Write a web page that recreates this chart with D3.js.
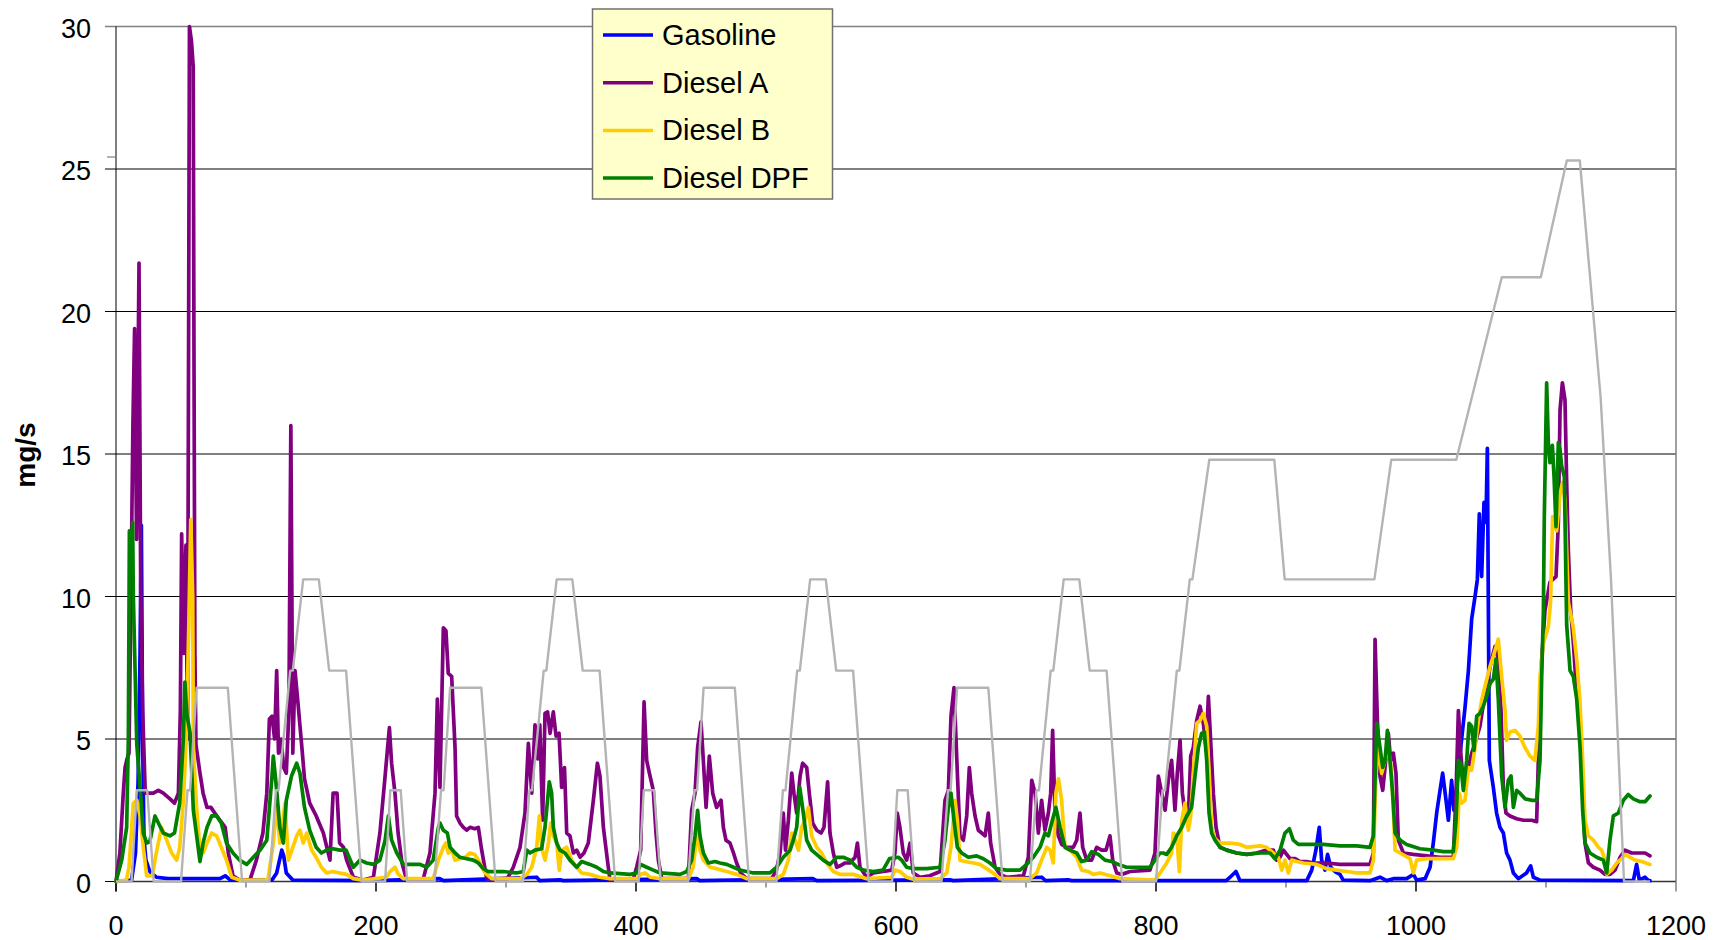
<!DOCTYPE html>
<html><head><meta charset="utf-8">
<script src="https://cdn.jsdelivr.net/npm/d3@7"></script>
<style>html,body{margin:0;padding:0;background:#fff;}svg{display:block;font-family:"Liberation Sans",Arial,sans-serif;}</style>
</head><body><svg id="c" width="1713" height="940"></svg>
<script>
// ---- data (time in s, emission in mg/s) ----
const seriesNames = ["Gasoline","Diesel A","Diesel B","Diesel DPF"];
const seriesColors = ["#0000FF","#800080","#FFCC00","#008000"];
const xTicks = [0,200,400,600,800,1000,1200];
const xMinorTicks = [100,300,500,700,900,1100];
const yTicks = [0,5,10,15,20,25,30];

const speedTime = [0,12,16,24,29,50,55,57,62,86,97,118,123,125,134,136,144,156,164,177,189,
 207,211,219,224,245,250,252,257,281,292,313,318,320,329,331,339,351,359,372,384,
 402,406,414,419,440,445,447,452,476,487,508,513,515,524,526,534,546,554,567,579,
 597,601,609,614,635,640,642,647,671,682,703,708,710,719,721,729,741,749,762,774,
 800,805,807,816,818,826,828,841,891,899,968,981,1031,1066,1096,1116,1126,1142,1150,1160,1180];
const speedValue = [0,0,3.2,3.2,0,0,3.2,3.2,6.8,6.8,0,0,3.2,3.2,7.4,7.4,10.6,10.6,7.4,7.4,0,
 0,3.2,3.2,0,0,3.2,3.2,6.8,6.8,0,0,3.2,3.2,7.4,7.4,10.6,10.6,7.4,7.4,0,
 0,3.2,3.2,0,0,3.2,3.2,6.8,6.8,0,0,3.2,3.2,7.4,7.4,10.6,10.6,7.4,7.4,0,
 0,3.2,3.2,0,0,3.2,3.2,6.8,6.8,0,0,3.2,3.2,7.4,7.4,10.6,10.6,7.4,7.4,0,
 0,3.2,3.2,7.4,7.4,10.6,10.6,14.8,14.8,10.6,10.6,14.8,14.8,21.2,21.2,25.3,25.3,17.0,10.6,0,0];

const gasoline = [[0,0],[12,0.05],[15,1.0],[17,3.5],[18.5,8],[19.5,12.5],[20.5,5],[21.5,1.5],[23,0.75],[26,0.35],[31,0.15],[40,0.1],[80,0.1],[84,0.2],[88,0.05],[120,0.05],[123.6,0.3],[127.5,1.1],[129,0.9],[131,0.3],[136,0.05],[200,0.03],[249,0.1],[252,0.03],[323.6,0.15],[326,0.03],[341.5,0.06],[344,0.03],[446.7,0.1],[449,0.03],[536,0.1],[539,0.03],[641.5,0.06],[644,0.03],[712,0.15],[715,0.03],[732.6,0.06],[735,0.03],[854,0.03],[857,0.15],[861.5,0.35],[864.6,0.03],[916,0.03],[919.8,0.4],[923,1.1],[925.6,1.9],[927.4,0.75],[930,0.4],[932,0.95],[934.4,0.5],[937.7,0.35],[941.5,0.25],[944,0.05],[964.6,0.03],[972.3,0.15],[977.4,0.03],[982.6,0.1],[992.8,0.1],[998,0.25],[1000.5,0.05],[1007,0.1],[1010.8,0.5],[1013.3,1.35],[1015.9,2.4],[1018.5,3.2],[1020.5,3.8],[1023.1,2.85],[1024.9,2.15],[1027.4,3.55],[1029.2,2.5],[1031.3,3.3],[1035.1,5.0],[1037.7,6.1],[1040.3,7.4],[1042.8,9.2],[1045.4,10.0],[1047.2,10.6],[1048.7,12.9],[1050.5,10.7],[1052.3,13.3],[1053.8,12.6],[1054.9,15.2],[1056.4,4.25],[1059.5,3.3],[1062,2.4],[1064.6,1.9],[1067.2,1.7],[1069.7,1.0],[1072.3,0.75],[1074.9,0.3],[1078.7,0.1],[1085,0.3],[1088.2,0.55],[1090.3,0.15],[1095.4,0.05],[1167.2,0.03],[1169.7,0.6],[1171.8,0.05],[1176.2,0.15],[1178.7,0.03],[1180,0.03]];

const dieselA = [[0,0],[3,1.0],[5.6,3.1],[7,4.0],[8.5,4.3],[10,4.5],[11.5,10],[13,16],[14.3,19.4],[15.8,12],[17.7,21.7],[19,10.3],[20.5,6],[22.5,3.1],[28.7,3.1],[32.6,3.2],[36.4,3.1],[41.5,2.9],[45,2.75],[48,3.1],[49.5,6],[50.5,12.2],[52,8],[53.8,11.8],[55,5],[56.5,30],[58,29.5],[59.4,28.6],[60,18.3],[60.7,8],[61.5,4.8],[64.6,3.8],[67,3.1],[70,2.6],[73,2.6],[76,2.4],[80,2.15],[84,1.9],[86.4,1.0],[90,0.2],[95,0.05],[103,0.05],[108,0.75],[113,1.7],[116,3.1],[118,5.7],[120,5.8],[122,5.0],[123.6,7.4],[125,4.5],[127,5.0],[129,4.0],[131,3.8],[133,6],[134.5,16.0],[136,4.5],[137.7,7.4],[140,6.25],[143,4.7],[145,3.6],[149,2.75],[154,2.3],[159.5,1.7],[164.6,0.75],[167,3.1],[170,3.1],[172,1.35],[175,1.2],[177.4,0.75],[182.6,0.15],[190,0.05],[198,0.15],[203,1.7],[207,3.7],[210.3,5.4],[212,4.15],[214.6,3.1],[217,1.7],[220,0.65],[223.6,0.05],[236.4,0.1],[241.5,1.0],[245.4,3.1],[247.2,6.4],[249.2,3.3],[251.8,8.9],[253.8,8.8],[255.6,7.3],[258.2,7.2],[260.8,4.7],[262,2.3],[264.6,2.05],[267.2,1.9],[269.8,1.8],[272.3,1.9],[276,1.85],[278.7,1.9],[281.3,1.1],[285,0.15],[290.3,0.05],[300.5,0.05],[305.6,0.5],[310.8,1.2],[314.6,2.4],[317.2,4.85],[319.8,3.1],[322.3,5.5],[324.4,4.3],[326,5.5],[328.2,2.15],[330,5.9],[332,5.95],[333.9,5.2],[336.4,5.95],[338.5,5.1],[340.8,5.2],[342.8,3.3],[345,4.0],[346.7,1.7],[349.2,1.6],[351.8,1.0],[354.4,1.1],[357,0.85],[360,1.0],[363.3,1.35],[367.2,2.85],[370.3,4.15],[372.3,3.7],[374.9,1.9],[378,0.75],[380,0.05],[398,0.1],[400.5,0.5],[403.6,1.1],[406.2,6.3],[408.2,4.25],[410.3,3.8],[413.3,3.2],[415.4,1.7],[417.2,0.75],[419.8,0.1],[440.3,0.1],[442.8,2.5],[445.4,3.1],[447.4,4.7],[450,5.6],[451.8,4.25],[453.9,2.6],[456.4,4.4],[459,3.1],[462,2.6],[465.4,2.85],[467.2,1.9],[469.2,1.45],[472.3,1.35],[475,1.0],[477.4,0.65],[480.5,0.3],[485,0.1],[504.4,0.1],[508,0.4],[510.8,1.0],[513.3,2.4],[515,1.1],[517.2,2.15],[519.8,3.8],[521.5,3.1],[523.6,2.4],[526.2,3.7],[528.2,4.15],[531.3,4.0],[533.3,3.1],[535.9,2.05],[539,1.8],[542.3,1.7],[544.6,1.9],[547.4,3.5],[549.2,1.7],[551.8,1.0],[554.4,0.5],[557,0.55],[560.8,0.65],[564.6,0.65],[568.5,0.85],[570.3,1.35],[572.3,0.5],[577.4,0.15],[582.6,0.3],[590.3,0.35],[596.7,0.4],[599.2,1.0],[601,2.4],[603,1.9],[605.6,1.0],[608.2,0.75],[610.8,1.35],[613.3,0.3],[618.5,0.15],[626,0.2],[633.9,0.35],[637.7,2.85],[640.3,3.2],[642.3,5.8],[644.6,6.8],[647.2,3.8],[649.2,1.6],[651.8,1.45],[654.4,2.3],[656.4,4.0],[658.2,3.1],[660.8,2.3],[663.3,1.8],[666,1.7],[668.5,1.6],[671,2.4],[672.8,1.35],[676.2,0.5],[680,0.25],[685,0.15],[698,0.2],[701.8,0.85],[704.4,3.55],[707,3.1],[709.5,1.7],[712,2.85],[714.6,1.8],[717.2,2.4],[719,3.1],[720.5,5.3],[722.3,2.4],[724.9,1.6],[727.4,1.3],[731.3,1.2],[736.4,1.2],[739,1.45],[741.5,2.4],[743.6,1.2],[746.7,0.75],[750.5,0.75],[754.4,1.2],[758.2,1.1],[761.5,1.1],[764.6,1.6],[766.7,0.75],[769.8,0.3],[773.6,0.25],[780,0.35],[795.4,0.4],[799.2,1.0],[801.8,3.7],[804.4,3.1],[807,2.5],[809.5,3.55],[812,4.25],[814.6,2.5],[816.4,3.8],[818.5,4.95],[820.3,3.1],[822.3,2.4],[824.9,2.3],[826.7,4.4],[828.7,4.7],[831.3,5.65],[833.9,6.15],[836.4,5.55],[838.5,4.7],[840.3,6.5],[842.3,4.7],[844.1,3.1],[846.2,1.9],[849.2,1.2],[854.4,1.1],[862,1.0],[869.8,0.95],[877.4,1.0],[885.1,1.1],[890.3,1.1],[892.8,0.75],[895.4,0.85],[898,1.1],[900.5,0.95],[903.1,0.8],[907,0.8],[910.8,0.7],[916,0.7],[921,0.65],[931.3,0.65],[941.5,0.6],[954.4,0.6],[964.6,0.6],[967.2,1.0],[968.5,8.5],[970.3,5.65],[972.3,3.7],[974.4,3.2],[976.2,4.0],[978.7,5.2],[980.5,4.25],[982.6,4.5],[984.6,3.8],[986.4,1.45],[990.3,1.0],[998,0.95],[1008.2,0.9],[1018.5,0.85],[1028.7,0.85],[1030.8,3.1],[1032.6,6.0],[1034.4,4.5],[1037,3.2],[1040.3,4.0],[1042.8,4.5],[1045.4,4.85],[1049.2,5.45],[1053.1,6.6],[1055.6,7.2],[1058.2,7.8],[1060.8,8.25],[1063.3,7.8],[1065.4,6.0],[1067.2,3.3],[1069.2,2.4],[1072.3,2.3],[1077.4,2.2],[1082.6,2.15],[1089,2.15],[1092.8,2.1],[1094.1,4.25],[1096.7,7.8],[1099.2,9.5],[1103,10.5],[1107.7,10.7],[1109.5,12.6],[1110.8,16.55],[1112.6,17.5],[1114.6,16.9],[1115.9,14.0],[1117.2,11.6],[1119,9.5],[1121,8.4],[1123.6,6.6],[1126.2,5.45],[1128.2,3.1],[1130,1.35],[1132.6,0.65],[1136.4,0.5],[1141.5,0.4],[1145.4,0.25],[1149.2,0.25],[1153.1,0.4],[1157,0.85],[1160.8,1.1],[1165.9,1.0],[1171,1.0],[1176.2,1.0],[1180,0.9]];

const dieselB = [[0,0],[8,0.05],[10,0.5],[11.5,1.5],[13.3,2.75],[16,2.85],[18.5,2.3],[21,1.2],[23.6,0.2],[28,0.2],[31,1.0],[35,1.9],[39,1.45],[42.8,1.0],[46.7,0.75],[49,1.2],[51.8,2.8],[54,5],[56,9],[57.5,12.7],[59,10],[59.5,4.7],[62,2.6],[64.6,1.1],[67,1.0],[70,1.35],[73.6,1.7],[77.4,1.6],[81,1.2],[85,0.75],[89,0.15],[95,0.05],[115,0.05],[117,0.1],[121,1.35],[123.6,2.75],[126,1.35],[130,2.75],[132.6,0.75],[136,1.2],[139,1.6],[141.5,1.8],[144,1.35],[146.7,1.7],[150.5,1.1],[154,0.85],[158,0.5],[162,0.3],[167,0.35],[172,0.3],[177.4,0.25],[182.6,0.1],[190,0.05],[208,0.15],[210.8,0.35],[214.6,0.5],[217.2,0.25],[221,0.1],[244,0.1],[248,0.75],[251.8,1.2],[253.8,1.35],[255.6,1.0],[258.2,1.1],[260.8,0.75],[264.6,0.8],[268.5,0.85],[272.3,1.0],[276,0.95],[280,0.65],[283.8,0.3],[289,0.1],[310.8,0.1],[316,0.25],[319.8,0.5],[323.6,1.2],[325.7,2.3],[327.4,1.2],[330,0.75],[332.6,1.35],[334.4,2.05],[336.4,1.6],[339,1.35],[341,0.4],[342.8,1.1],[346.7,1.2],[350.5,0.75],[354.4,0.5],[358.2,0.3],[364.6,0.25],[372,0.15],[380,0.1],[400.5,0.1],[403.6,0.25],[407,0.3],[410.8,0.15],[418.5,0.1],[440.3,0.1],[444,0.5],[447.4,1.9],[449.2,1.1],[451.8,0.75],[457,0.5],[462,0.45],[469.8,0.35],[477.4,0.25],[485.1,0.1],[508.2,0.1],[513.3,0.25],[517.2,0.75],[519.8,1.7],[522.3,1.45],[525,1.1],[527.4,1.9],[530,2.15],[532.6,2.6],[535.1,1.6],[539,1.2],[542.8,1.0],[546.7,0.65],[551.8,0.35],[557,0.25],[567.2,0.25],[577.4,0.1],[596.7,0.15],[599.2,0.4],[603,0.35],[608.2,0.15],[613.3,0.08],[633.9,0.1],[639,0.3],[642.3,1.2],[645.4,2.85],[647.2,2.15],[649.2,0.75],[653,0.7],[659.5,0.65],[664.6,0.6],[669.8,0.45],[676.2,0.25],[680,0.1],[703,0.1],[708.2,0.3],[712,0.75],[716,1.2],[718.5,1.1],[721,0.65],[723,3.1],[725,3.6],[727.4,2.85],[730,1.2],[733.9,1.1],[739,0.85],[742.8,0.4],[748,0.35],[751.8,0.25],[757,0.3],[764.6,0.2],[772.3,0.1],[799.2,0.05],[803.1,0.3],[808.2,0.65],[812,1.0],[813.3,1.7],[815.9,1.6],[818,0.35],[819.8,2.15],[822.3,2.75],[824.9,1.8],[826.7,2.3],[828.7,3.8],[831.3,5.55],[833.9,5.65],[836.4,5.9],[839,5.45],[841,3.7],[842.8,1.9],[845.4,1.5],[849.2,1.35],[857,1.35],[864.6,1.3],[869.8,1.2],[880,1.25],[885.1,1.2],[890.3,1.0],[894.1,0.85],[896.7,0.4],[899.2,0.75],[901.8,0.3],[904.4,0.75],[908.2,0.7],[913.3,0.65],[923.6,0.6],[931.3,0.45],[939,0.4],[946.7,0.35],[954.4,0.3],[964.6,0.3],[967.2,0.75],[969.2,3.7],[971,4.7],[973.6,3.8],[976.2,4.25],[978.7,4.7],[981.3,3.8],[983.9,1.1],[987.7,1.0],[995.4,0.8],[998,0.3],[1000.5,0.75],[1008.2,0.8],[1028.7,0.8],[1031.3,1.2],[1033.3,3.1],[1035.1,2.75],[1037.7,2.85],[1040.3,4.0],[1042.8,3.9],[1045.4,4.7],[1048,5.65],[1050.5,6.35],[1053.1,6.85],[1057,7.55],[1059.5,7.9],[1063.3,8.5],[1065.9,7.2],[1068.5,6.0],[1069.7,4.95],[1072.3,5.25],[1076.2,5.3],[1080,5.1],[1083.8,4.7],[1087.7,4.4],[1091.5,4.25],[1094.1,5.45],[1095.4,7.2],[1098,8.35],[1101.8,8.95],[1103.5,9.8],[1105.1,12.8],[1108.2,12.3],[1110.8,13.6],[1112.8,14.0],[1114.6,13.4],[1117.2,9.8],[1118.5,9.5],[1121,8.9],[1123.6,7.8],[1126.2,6.25],[1128.2,4.25],[1130,2.15],[1132.6,1.6],[1136.4,1.45],[1140.3,1.2],[1142.8,1.1],[1145.4,0.75],[1146.7,0.25],[1150.5,0.4],[1154.4,0.65],[1158.2,0.8],[1160.8,0.95],[1164.6,0.85],[1168.5,0.75],[1173.6,0.7],[1180,0.6]];

const dieselDPF = [[0,0],[4.4,0.75],[8.2,1.9],[9.5,5],[10.3,12.3],[11.5,11],[12.8,12.6],[13.3,10.1],[16,4.8],[18.5,3.3],[21,1.7],[23.6,1.35],[26,1.4],[30,2.3],[32.6,2.05],[36.4,1.7],[41.5,1.6],[45,1.7],[49,2.75],[51.8,5],[53,7.0],[54.4,5.9],[57,5.2],[59.5,2.5],[64.6,0.7],[67,1.35],[70,1.9],[73.6,2.3],[77.4,2.3],[81,2.05],[85,1.35],[90,1.0],[95,0.75],[100.5,0.6],[105.6,0.85],[110.8,1.1],[116,1.45],[120,3.7],[121,4.4],[123.6,3.2],[126,1.9],[128.7,1.35],[131,2.85],[135,3.7],[139,4.15],[141.5,3.8],[145,2.6],[149,1.8],[154,1.2],[158,1.0],[162,1.1],[167,1.15],[172,1.1],[177,1.1],[182.6,0.5],[187.7,0.75],[192.8,0.65],[198,0.6],[203,0.75],[207,1.45],[209.5,2.3],[212,1.45],[216,1.0],[221,0.6],[233.9,0.6],[239,0.5],[244,0.75],[248,1.9],[249.2,2.05],[251.8,1.8],[254.9,1.7],[257,1.2],[260.8,1.0],[264.6,0.85],[269.8,0.8],[274.9,0.75],[278.7,0.65],[282.6,0.45],[286.4,0.35],[298,0.35],[308,0.3],[313.3,0.35],[316,1.1],[318.5,1.0],[322.3,1.1],[327.4,1.15],[330,1.9],[333.3,3.5],[335.1,3.1],[336.4,1.9],[339,1.35],[341.5,1.1],[345.4,1.0],[349.2,0.75],[354.4,0.5],[358.2,0.7],[364.6,0.6],[369.8,0.5],[374.9,0.35],[380,0.3],[395.4,0.25],[400.5,0.3],[403.6,0.6],[408.2,0.5],[413.3,0.4],[418.5,0.3],[433.9,0.25],[439,0.35],[442.8,0.75],[445.4,1.6],[447.4,2.5],[449.2,1.6],[451.8,1.0],[455.6,0.65],[460.8,0.7],[464.6,0.65],[469.8,0.6],[475,0.5],[480,0.4],[485.1,0.35],[490.3,0.3],[503,0.3],[508.2,0.5],[513.3,0.85],[518.5,1.1],[521,1.45],[523.6,1.9],[526,3.3],[528.7,2.4],[531.3,1.45],[535.1,1.1],[539,0.95],[544,0.75],[549.2,0.6],[554.4,0.85],[559.5,0.85],[564.6,0.75],[569.8,0.5],[574.9,0.4],[582.6,0.35],[590,0.4],[595,0.8],[601.8,0.85],[604.4,0.75],[608.2,0.5],[613.3,0.45],[623.6,0.45],[633.9,0.5],[637.7,1.45],[640.3,2.6],[642.3,3.1],[644.6,2.15],[647.2,1.2],[650.5,1.0],[655.6,0.85],[662,0.9],[667.2,0.8],[672.3,0.65],[677.4,0.45],[685.1,0.4],[695.4,0.4],[700.5,0.6],[705.6,0.85],[710.8,1.2],[714.6,1.7],[717.2,1.6],[719.7,2.05],[723,2.6],[726.2,1.9],[730,1.2],[733.9,1.1],[739,1.0],[742.8,0.7],[746.7,0.75],[750.5,1.05],[755.6,0.95],[760.8,0.75],[765.9,0.7],[771,0.6],[777.4,0.5],[795.4,0.5],[799.2,0.75],[803.1,1.0],[805.6,1.0],[808.2,0.95],[812,1.2],[815.9,1.6],[819.8,1.9],[823.6,2.3],[827.4,2.6],[830,3.7],[832.6,4.7],[835.1,5.2],[837.2,5.25],[839,4.25],[840.8,2.4],[842.8,1.7],[845.4,1.45],[849.2,1.2],[854.4,1.1],[862,1.0],[869.8,0.95],[880,1.0],[887.7,1.0],[891.5,0.8],[895.4,1.1],[899.2,1.7],[902.6,1.85],[905.6,1.45],[909.5,1.3],[916,1.3],[928.7,1.3],[941.5,1.25],[954.4,1.25],[964.6,1.2],[967.2,1.6],[969.8,5.55],[972.3,4.7],[974.4,4.0],[976.2,4.25],[978,5.3],[980,4.25],[982,3.1],[983.9,1.7],[987.7,1.45],[992.8,1.3],[1003,1.15],[1013.3,1.1],[1021,1.05],[1028.7,1.05],[1030.8,2.15],[1032.6,4.25],[1034.4,4.15],[1036.4,3.2],[1039,4.25],[1040.8,5.55],[1042.8,5.45],[1044.6,4.6],[1046.7,5.8],[1049.2,5.9],[1051.8,6.15],[1054.4,6.5],[1057,6.95],[1059.5,7.1],[1061.5,7.8],[1063.3,6.4],[1065.9,3.7],[1068.5,2.6],[1071,3.55],[1073.1,3.7],[1074.9,2.6],[1077.4,3.2],[1080,3.1],[1083.9,2.9],[1089,2.85],[1092.8,2.85],[1095.4,4.25],[1096.7,7.2],[1098,9.5],[1098.7,12.8],[1100.5,17.5],[1101.8,15.4],[1103,14.7],[1104.9,15.3],[1106.2,14.2],[1107.7,12.45],[1109.5,15.4],[1110.8,15.15],[1112,14.6],[1114.1,14.2],[1115.9,9.0],[1118.5,7.4],[1121,7.2],[1123.6,6.4],[1126.2,4.7],[1128.2,2.5],[1130,1.35],[1133.8,1.0],[1139,0.85],[1144.1,0.75],[1146.7,0.3],[1149.2,1.45],[1151.8,2.3],[1155.6,2.4],[1159.5,2.85],[1163.3,3.05],[1167.2,2.9],[1172.3,2.8],[1176.2,2.8],[1180,3.0]];

const seriesData = [gasoline, dieselA, dieselB, dieselDPF];

// ---- layout ----
const svg = d3.select("#c");
const L = 116, R = 1676, T = 26.5, B = 881.5;
const x = d3.scaleLinear().domain([0,1200]).range([L,R]);
const y = d3.scaleLinear().domain([0,30]).range([B,T]);

svg.append("rect").attr("width",1713).attr("height",940).attr("fill","#fff");

// gridlines + y ticks
svg.append("g").selectAll("line").data(yTicks.filter(d=>d>0)).join("line")
  .attr("x1",105).attr("x2",R).attr("y1",d=>y(d)).attr("y2",d=>y(d))
  .attr("stroke",d=>d===30?"#808080":"#000").attr("stroke-width",d=>d===30?1.5:1);
// right border
svg.append("line").attr("x1",R).attr("x2",R).attr("y1",T).attr("y2",B)
  .attr("stroke","#808080").attr("stroke-width",1.5);
// y axis
svg.append("line").attr("x1",L).attr("x2",L).attr("y1",T).attr("y2",B+10).attr("stroke","#000").attr("stroke-width",1);
svg.append("line").attr("x1",105).attr("x2",L).attr("y1",B).attr("y2",B).attr("stroke","#000");
// x axis
svg.append("line").attr("x1",L).attr("x2",R).attr("y1",B).attr("y2",B).attr("stroke","#333").attr("stroke-width",1.5);
svg.append("g").selectAll("line").data(xTicks).join("line")
  .attr("x1",d=>x(d)).attr("x2",d=>x(d)).attr("y1",B).attr("y2",B+10)
  .attr("stroke",d=>d===1200?"#808080":"#000").attr("stroke-width",1.5);
svg.append("g").selectAll("line").data(xMinorTicks).join("line")
  .attr("x1",d=>x(d)).attr("x2",d=>x(d)).attr("y1",B).attr("y2",B+6)
  .attr("stroke","#808080").attr("stroke-width",1.5);

// labels
svg.append("g").selectAll("text").data(xTicks).join("text")
  .attr("x",d=>x(d)).attr("y",935).attr("text-anchor","middle")
  .attr("font-size",27).attr("fill","#000").text(d=>d);
svg.append("g").selectAll("text").data(yTicks).join("text")
  .attr("x",91).attr("y",d=>y(d)+11).attr("text-anchor","end")
  .attr("font-size",27).attr("fill","#000").text(d=>d);
svg.append("text").attr("transform","translate(35,455) rotate(-90)")
  .attr("text-anchor","middle").attr("font-size",28).attr("font-weight","bold").text("mg/s");

// small grey stub left of axis
svg.append("line").attr("x1",107).attr("x2",115).attr("y1",157).attr("y2",157)
  .attr("stroke","#b4b4b4").attr("stroke-width",2);

// series
const line = d3.line().x(d=>x(d[0])).y(d=>y(d[1]));
seriesData.forEach((s,i)=>{
  svg.append("path").datum(s).attr("d",line).attr("fill","none")
    .attr("stroke",seriesColors[i]).attr("stroke-width",3.7)
    .attr("stroke-linejoin","round").attr("stroke-linecap","round");
});
// speed trace (grey)
const speed = speedTime.map((t,i)=>[t,speedValue[i]]);
svg.append("path").datum(speed).attr("d",line).attr("fill","none")
  .attr("stroke","#b4b4b4").attr("stroke-width",2.4).attr("stroke-linejoin","round");

// legend
const lg = svg.append("g");
lg.append("rect").attr("x",592.5).attr("y",9).attr("width",240).attr("height",190)
  .attr("fill","#FFFFCC").attr("stroke","#707070").attr("stroke-width",1.5);
seriesNames.forEach((n,i)=>{
  const cy = 35 + i*47.7;
  lg.append("line").attr("x1",603).attr("x2",653).attr("y1",cy).attr("y2",cy)
    .attr("stroke",seriesColors[i]).attr("stroke-width",3.5);
  lg.append("text").attr("x",662).attr("y",cy+10).attr("font-size",29).attr("fill","#000").text(n);
});
</script></body></html>
